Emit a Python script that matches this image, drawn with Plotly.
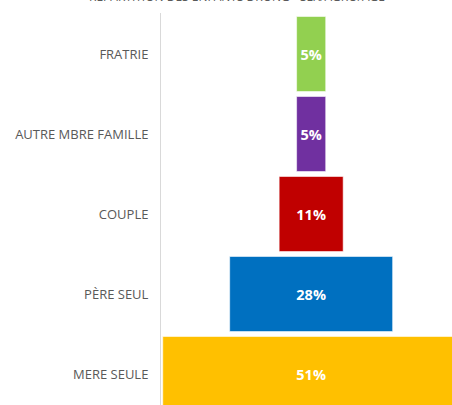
import plotly.graph_objects as go

categories = ["MERE SEULE", "PÈRE SEUL", "COUPLE", "AUTRE MBRE FAMILLE", "FRATRIE"]
values = [51, 28, 11, 5, 5]
colors = ["#FFC000", "#0070C0", "#C00000", "#7030A0", "#92D050"]
labels = [f"{v}%" for v in values]
title_text = "RÉPARTITION DES ENFANTS DRONG - SEX/AGRO/AGE"

fig = go.Figure()
fig.add_trace(go.Bar(
    y=categories,
    x=values,
    base=[-v / 2 for v in values],
    orientation="h",
    marker=dict(color=colors, line=dict(color="rgba(255,255,255,0.55)", width=1)),
    text=labels,
    textposition="inside",
    insidetextanchor="middle",
    textangle=0,
    textfont=dict(family="Open Sans", size=14.5, color="white", weight="bold"),
    cliponaxis=True,
))

fig.update_layout(
    width=452, height=405,
    margin=dict(l=161, r=0, t=13, b=0),
    paper_bgcolor="white", plot_bgcolor="white",
    bargap=0.0625,
    showlegend=False,
    xaxis=dict(range=[-25.8, 24.2], visible=False, fixedrange=True),
    yaxis=dict(
        type="category", categoryorder="array", categoryarray=categories,
        range=[-0.3875, 4.5125],
        showgrid=False, zeroline=False,
        showline=True, linecolor="#D9D9D9", linewidth=1,
        ticks="", ticklabelstandoff=9,
        tickfont=dict(family="Open Sans", size=13, color="#595959"),
    ),
    annotations=[dict(
        text=title_text, xref="paper", yref="paper",
        x=0.261, y=1.041, xanchor="center", yanchor="middle",
        showarrow=False,
        font=dict(family="Open Sans", size=12, color="#595959"),
    )],
)

fig.write_html("out.html")
